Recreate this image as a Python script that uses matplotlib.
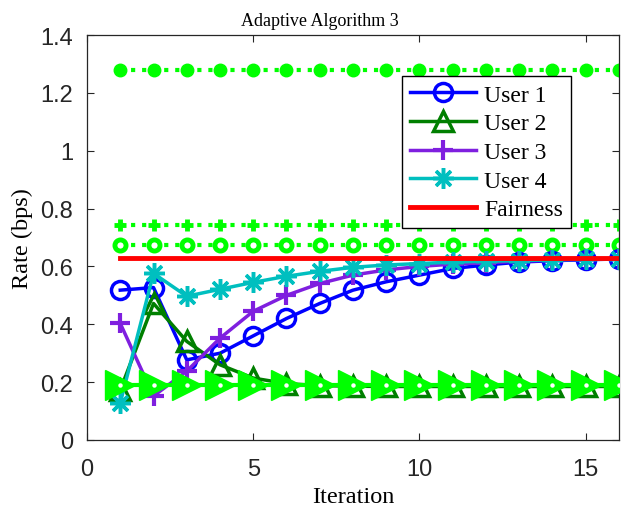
import numpy as np
import matplotlib
matplotlib.use('Agg')
import matplotlib.pyplot as plt

# iteration index and per-user rates (bps)
iterations = np.arange(1, 17)
user1 = [0.518, 0.527, 0.277, 0.300, 0.360, 0.420, 0.472, 0.518, 0.547, 0.570,
         0.593, 0.605, 0.615, 0.620, 0.623, 0.626]
user2 = [0.173, 0.472, 0.341, 0.260, 0.214, 0.195, 0.188, 0.186, 0.185, 0.185,
         0.185, 0.185, 0.185, 0.185, 0.185, 0.185]
user3 = [0.403, 0.152, 0.238, 0.352, 0.445, 0.500, 0.541, 0.570, 0.588, 0.600,
         0.608, 0.613, 0.618, 0.622, 0.625, 0.627]
user4 = [0.128, 0.576, 0.497, 0.521, 0.545, 0.566, 0.583, 0.597, 0.605, 0.610,
         0.615, 0.618, 0.620, 0.623, 0.625, 0.627]
fairness = 0.63

# reference rate levels (green)
ref_dot = 1.28
ref_plus = 0.742
ref_circ = 0.673
ref_tri = 0.19

SERIF = ['Liberation Serif', 'DejaVu Serif']
SANS = ['Liberation Sans', 'DejaVu Sans']
GREEN = '#00ff00'

fig = plt.figure(figsize=(6.37, 5.10), dpi=100)
ax = fig.add_axes([0.1366, 0.1353, 0.8351, 0.7941])

n = len(iterations)
ax.plot(iterations, [ref_dot] * n, ':', color=GREEN, lw=3, marker='o', ms=9,
        mfc=GREEN, mec=GREEN)
ax.plot(iterations, [ref_plus] * n, ':', color=GREEN, lw=3, marker='+', ms=9,
        mew=3.5, mec=GREEN)
ax.plot(iterations, [ref_circ] * n, ':', color=GREEN, lw=3, marker='o', ms=8,
        mfc='white', mec=GREEN, mew=3.5)

ax.plot(iterations, user1, '-', color='#0000ff', lw=2.5, marker='o', ms=13,
        mfc='none', mew=2.5, label='User 1')
ax.plot(iterations, user2, '-', color='#007f00', lw=2.5, marker='^', ms=14,
        mfc='none', mew=2.5, label='User 2')
ax.plot(iterations, user3, '-', color='#7f1fdf', lw=2.5, marker='+', ms=15,
        mew=3, label='User 3')
ax.plot(iterations, user4, '-', color='#00bfbf', lw=2.5, marker=(8, 2, 0),
        ms=15, mew=2.5, label='User 4')
ax.plot(iterations, [fairness] * n, '-', color='#ff0000', lw=3.5,
        label='Fairness')

# big right-pointing triangles with a small hollow centre
ax.plot(iterations, [ref_tri] * n, '-', color=GREEN, lw=3, marker='>', ms=22,
        mfc=GREEN, mec=GREEN, mew=1, zorder=3)
ax.plot(iterations, [ref_tri] * n, ls='none', marker='o', ms=2.2,
        mfc='white', mec='white', zorder=3.1)

ax.set_xlim(0, 16)
ax.set_ylim(0, 1.4)
ax.set_xticks([0, 5, 10, 15])
ax.set_yticks(np.arange(0, 1.41, 0.2))
ax.set_yticklabels(['0', '0.2', '0.4', '0.6', '0.8', '1', '1.2', '1.4'])
ax.tick_params(direction='in', top=True, right=True, length=5, width=0.8,
               labelsize=17, colors='#262626')
ax.tick_params(axis='y', pad=10)
ax.tick_params(axis='x', pad=13)
for lbl in ax.get_xticklabels() + ax.get_yticklabels():
    lbl.set_family(SANS)
for s in ax.spines.values():
    s.set_color('#262626')
    s.set_linewidth(0.9)

fig.text(0.502, 0.941, 'Adaptive Algorithm 3', family=SERIF, fontsize=13,
         ha='center', va='bottom')
ax.set_xlabel('Iteration', family=SERIF, fontsize=17.5, labelpad=4)
ax.set_ylabel('Rate (bps)', family=SERIF, fontsize=17.5, labelpad=5)

leg = ax.legend(loc='upper left', bbox_to_anchor=(0.5915, 0.899),
                prop={'family': SERIF, 'size': 17}, frameon=True,
                fancybox=False, edgecolor='black', framealpha=1,
                handlelength=2.8, borderpad=0.35, labelspacing=0.3,
                handletextpad=0.35, borderaxespad=0)
leg.get_frame().set_linewidth(1.0)

fig.savefig('out.png', dpi=100)
